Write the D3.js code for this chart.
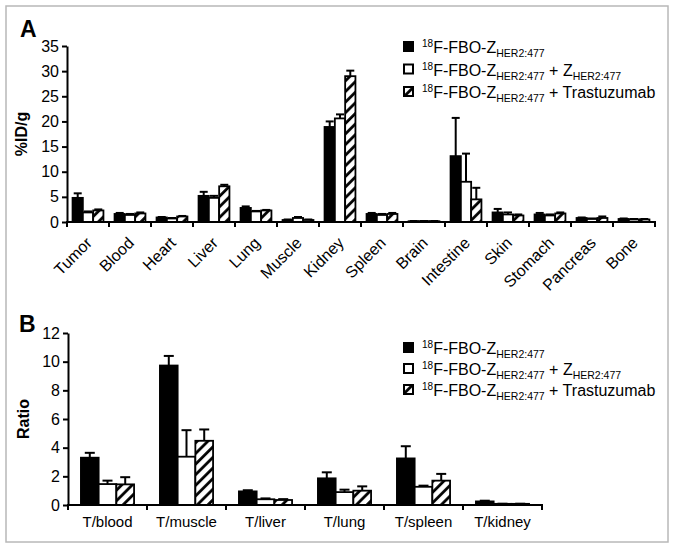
<!DOCTYPE html>
<html><head><meta charset="utf-8">
<script src="https://cdn.jsdelivr.net/npm/d3@7"></script>
<style>body{margin:0;background:#fff}svg{display:block}text{font-family:"Liberation Sans",Arial,sans-serif}</style>
</head><body><svg id="c" width="674" height="548"></svg>
<script>
// Panel A data
const organs = ["Tumor","Blood","Heart","Liver","Lung","Muscle","Kidney","Spleen","Brain","Intestine","Skin","Stomach","Pancreas","Bone"];
const aBlack = [4.8,1.6,0.9,5.2,2.8,0.4,18.9,1.6,0.15,13.1,1.9,1.5,0.8,0.6];
const aBlackErr = [0.9,0.2,0.1,0.8,0.3,0.1,1.1,0.2,0.05,7.6,0.7,0.3,0.1,0.1];
const aWhite = [1.9,1.4,0.7,4.8,2.1,0.8,20.6,1.4,0.15,8.0,1.5,1.3,0.6,0.5];
const aWhiteErr = [0.2,0.2,0.1,0.4,0.1,0.2,0.8,0.2,0.05,5.6,0.4,0.2,0.1,0.1];
const aHatch = [2.3,1.7,1.1,7.1,2.3,0.4,29.0,1.6,0.15,4.5,1.3,1.7,0.8,0.5];
const aHatchErr = [0.2,0.2,0.1,0.3,0.1,0.1,1.1,0.2,0.05,2.3,0.2,0.2,0.3,0.1];
const aTicks = [0,5,10,15,20,25,30,35];
// Panel B data
const ratios = ["T/blood","T/muscle","T/liver","T/lung","T/spleen","T/kidney"];
const bBlack = [3.3,9.73,0.95,1.86,3.25,0.25];
const bBlackErr = [0.34,0.67,0.08,0.42,0.85,0.05];
const bWhite = [1.46,3.37,0.4,0.9,1.27,0.08];
const bWhiteErr = [0.24,1.85,0.06,0.17,0.08,0.01];
const bHatch = [1.44,4.48,0.35,1.0,1.7,0.08];
const bHatchErr = [0.5,0.79,0.06,0.3,0.47,0.01];
const bTicks = [0,2,4,6,8,10,12];
const seriesKeys = ["black","white","hatch"];

const svg = d3.select("#c");
const defs = svg.append("defs");
const pat = defs.append("pattern").attr("id","hatch").attr("patternUnits","userSpaceOnUse")
  .attr("width",7.5).attr("height",7.5).attr("patternTransform","rotate(45)");
pat.append("rect").attr("width",7.5).attr("height",7.5).attr("fill","#fff");
pat.append("line").attr("x1",1.5).attr("y1",-1).attr("x2",1.5).attr("y2",9).attr("stroke","#000").attr("stroke-width",2.8);

svg.append("rect").attr("x",6).attr("y",6).attr("width",662).attr("height",536)
  .attr("fill","none").attr("stroke","#b8b8b8").attr("stroke-width",1.5);

const fills = {black:"#000", white:"#fff", hatch:"url(#hatch)"};

function legendLabel(g, x, y, idx){
  const t = g.append("text").attr("x",x).attr("y",y).attr("font-size",16).attr("fill","#000");
  t.append("tspan").attr("font-size",10).attr("dy",-6).text("18");
  t.append("tspan").attr("dy",6).text("F-FBO-Z");
  t.append("tspan").attr("font-size",10.5).attr("dy",4).text("HER2:477");
  if(idx===1){
    t.append("tspan").attr("dy",-4).text(" + Z");
    t.append("tspan").attr("font-size",10.5).attr("dy",4).text("HER2:477");
  } else if(idx===2){
    t.append("tspan").attr("dy",-4).text(" + Trastuzumab");
  }
}

function panel(opts){
  const {cats, data, errs, ticks, x0, x1, y0, y1, ymax, pad, rotate, ylabel, letter, lx, ly, legX, legY, legStep, capW, ylabX} = opts;
  const g = svg.append("g");
  const x = d3.scaleBand().domain(cats).range([x0,x1]).paddingInner(0).paddingOuter(0);
  const xs = d3.scaleBand().domain(seriesKeys).range([0,x.bandwidth()]).paddingInner(0).paddingOuter(pad);
  const y = d3.scaleLinear().domain([0,ymax]).range([y0,y1]);

  seriesKeys.forEach((k,si)=>{
    const vals = data[si], er = errs[si];
    const gg = g.append("g");
    gg.selectAll("line.e").data(cats).join("line")
      .attr("x1",d=>x(d)+xs(k)+xs.bandwidth()/2).attr("x2",d=>x(d)+xs(k)+xs.bandwidth()/2)
      .attr("y1",(d,i)=>y(vals[i])).attr("y2",(d,i)=>y(vals[i]+er[i]))
      .attr("stroke","#000").attr("stroke-width",2);
    gg.selectAll("line.c").data(cats).join("line")
      .attr("x1",d=>x(d)+xs(k)+xs.bandwidth()/2-capW/2).attr("x2",d=>x(d)+xs(k)+xs.bandwidth()/2+capW/2)
      .attr("y1",(d,i)=>y(vals[i]+er[i])).attr("y2",(d,i)=>y(vals[i]+er[i]))
      .attr("stroke","#000").attr("stroke-width",2);
    gg.selectAll("rect").data(cats).join("rect")
      .attr("x",d=>x(d)+xs(k)).attr("width",xs.bandwidth())
      .attr("y",(d,i)=>y(vals[i])).attr("height",(d,i)=>y(0)-y(vals[i]))
      .attr("fill",fills[k]).attr("stroke","#000").attr("stroke-width",1.8);
  });

  const ya = d3.axisLeft(y).tickValues(ticks).tickSize(5).tickPadding(3).tickSizeOuter(0);
  const yg = g.append("g").attr("transform",`translate(${x0},0)`).call(ya);
  yg.select(".domain").attr("stroke-width",2);
  yg.selectAll(".tick line").attr("stroke-width",2);
  yg.selectAll("text").attr("font-size",16).attr("fill","#000").style("font-family","'Liberation Sans', Arial, sans-serif");

  const bounds = cats.map(c=>x(c)).concat([x1]);
  g.append("line").attr("x1",x0-1).attr("x2",x1).attr("y1",y0).attr("y2",y0).attr("stroke","#000").attr("stroke-width",2);
  g.selectAll("line.bt").data(bounds).join("line").attr("class","bt")
    .attr("x1",d=>d).attr("x2",d=>d).attr("y1",y0-1).attr("y2",y0+5).attr("stroke","#000").attr("stroke-width",2);

  if(rotate){
    g.selectAll("text.xl").data(cats).join("text").attr("class","xl")
      .attr("transform",d=>`translate(${x(d)+x.bandwidth()/2-3},${y0+14}) rotate(-45)`)
      .attr("text-anchor","end").attr("dy","0.7em").attr("font-size",16).text(d=>d);
  } else {
    g.selectAll("text.xl").data(cats).join("text").attr("class","xl")
      .attr("x",d=>x(d)+x.bandwidth()/2).attr("y",y0+22)
      .attr("text-anchor","middle").attr("font-size",15).text(d=>d);
  }

  g.append("text").attr("transform",`translate(${ylabX},${(y0+y1)/2}) rotate(-90)`)
    .attr("text-anchor","middle").attr("font-size",16).attr("font-weight","bold").text(ylabel);
  g.append("text").attr("x",lx).attr("y",ly).attr("font-size",23).attr("font-weight","bold").text(letter);

  seriesKeys.forEach((k,i)=>{
    const yy = legY + i*legStep;
    g.append("rect").attr("x",legX).attr("y",yy-5).attr("width",9).attr("height",9)
      .attr("fill",fills[k]).attr("stroke","#000").attr("stroke-width",2);
    legendLabel(g, legX+18, yy+6, i);
  });
}

panel({cats:organs, data:[aBlack,aWhite,aHatch], errs:[aBlackErr,aWhiteErr,aHatchErr], ticks:aTicks,
  x0:67, x1:655, y0:222, y1:46, ymax:35, pad:0.54, rotate:true, ylabel:"%ID/g", letter:"A", lx:20, ly:37,
  legX:404, legY:47, legStep:22.5, capW:8, ylabX:27});
panel({cats:ratios, data:[bBlack,bWhite,bHatch], errs:[bBlackErr,bWhiteErr,bHatchErr], ticks:bTicks,
  x0:68, x1:542, y0:505, y1:333, ymax:12, pad:0.73, rotate:false, ylabel:"Ratio", letter:"B", lx:19, ly:332,
  legX:404, legY:348, legStep:21, capW:10, ylabX:29});
</script></body></html>
